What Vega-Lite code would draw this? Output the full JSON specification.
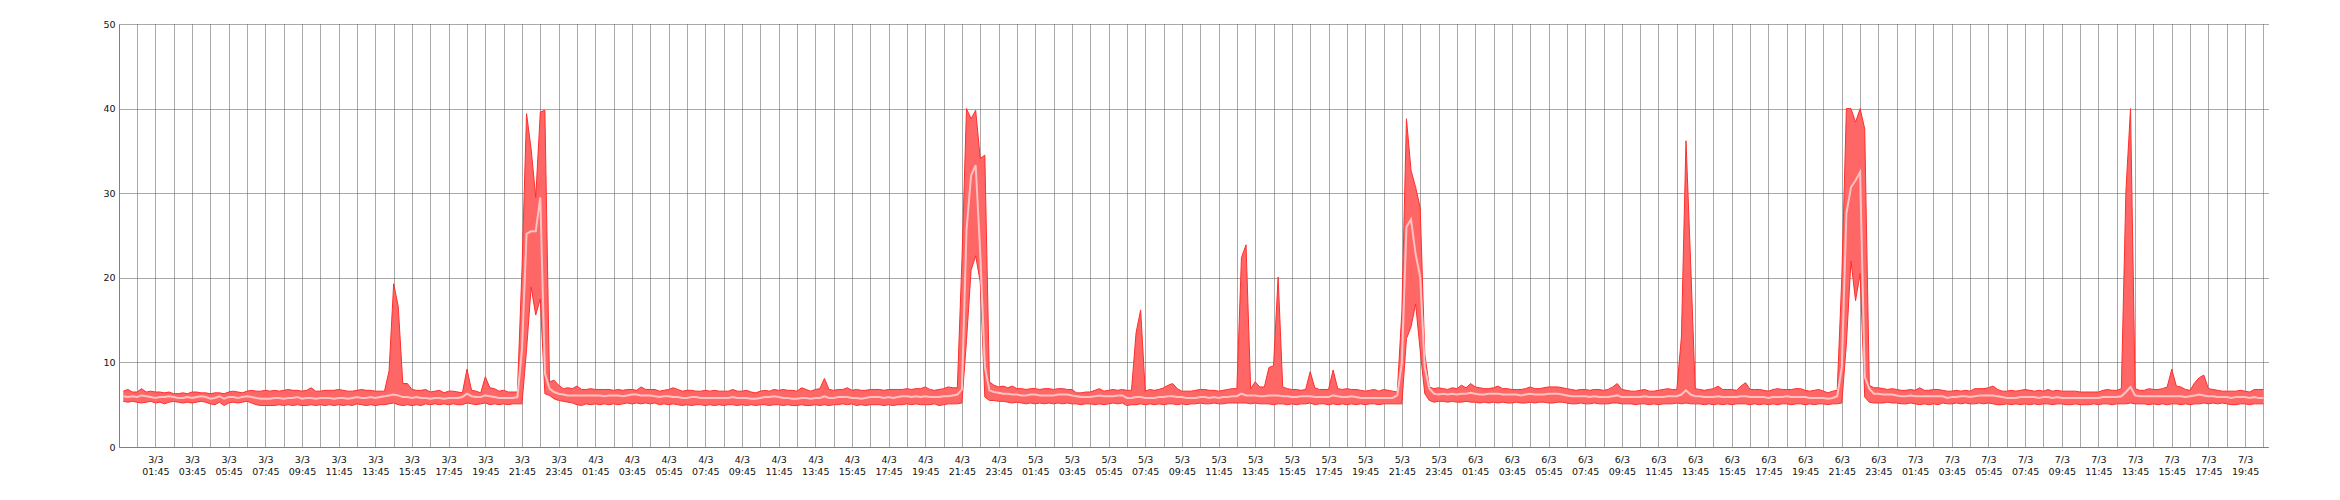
{
"$schema":"https://vega.github.io/schema/vega-lite/v6.json",
"autosize":{"type":"none"},
"padding":{"left":119,"top":24,"right":72,"bottom":53},
"width":2149,"height":423,
"background":"white",
"config":{"view":{"stroke":null},"axis":{"labelFont":"DejaVu Sans","labelFontSize":9.5,"labelColor":"#111111","domainColor":"#808080","domainWidth":1,"gridColor":"#555555","gridDash":[1,1],"gridWidth":1,"ticks":false,"zindex":1}},
"data":{"values":[
{"t":"2021-03-03T00:00","lo":5.4,"av":6.0,"hi":6.6},
{"t":"2021-03-03T00:15","lo":5.3,"av":5.9,"hi":6.8},
{"t":"2021-03-03T00:30","lo":5.4,"av":6.0,"hi":6.5},
{"t":"2021-03-03T00:45","lo":5.3,"av":5.9,"hi":6.5},
{"t":"2021-03-03T01:00","lo":5.2,"av":6.1,"hi":6.9},
{"t":"2021-03-03T01:15","lo":5.3,"av":6.0,"hi":6.5},
{"t":"2021-03-03T01:30","lo":5.4,"av":5.9,"hi":6.6},
{"t":"2021-03-03T01:45","lo":5.2,"av":5.8,"hi":6.5},
{"t":"2021-03-03T02:00","lo":5.3,"av":5.9,"hi":6.5},
{"t":"2021-03-03T02:15","lo":5.1,"av":5.9,"hi":6.4},
{"t":"2021-03-03T02:30","lo":5.3,"av":6.0,"hi":6.5},
{"t":"2021-03-03T02:45","lo":5.4,"av":5.9,"hi":6.3},
{"t":"2021-03-03T03:00","lo":5.3,"av":5.8,"hi":6.3},
{"t":"2021-03-03T03:15","lo":5.2,"av":5.8,"hi":6.4},
{"t":"2021-03-03T03:30","lo":5.3,"av":5.9,"hi":6.3},
{"t":"2021-03-03T03:45","lo":5.2,"av":5.8,"hi":6.5},
{"t":"2021-03-03T04:00","lo":5.3,"av":5.9,"hi":6.5},
{"t":"2021-03-03T04:15","lo":5.4,"av":6.0,"hi":6.4},
{"t":"2021-03-03T04:30","lo":5.3,"av":5.9,"hi":6.4},
{"t":"2021-03-03T04:45","lo":5.1,"av":5.7,"hi":6.3},
{"t":"2021-03-03T05:00","lo":5.0,"av":5.8,"hi":6.4},
{"t":"2021-03-03T05:15","lo":5.3,"av":6.0,"hi":6.4},
{"t":"2021-03-03T05:30","lo":4.9,"av":5.7,"hi":6.3},
{"t":"2021-03-03T05:45","lo":5.2,"av":5.9,"hi":6.5},
{"t":"2021-03-03T06:00","lo":5.3,"av":5.9,"hi":6.6},
{"t":"2021-03-03T06:15","lo":5.2,"av":5.8,"hi":6.5},
{"t":"2021-03-03T06:30","lo":5.3,"av":5.9,"hi":6.4},
{"t":"2021-03-03T06:45","lo":5.4,"av":6.0,"hi":6.6},
{"t":"2021-03-03T07:00","lo":5.2,"av":5.9,"hi":6.7},
{"t":"2021-03-03T07:15","lo":5.0,"av":5.8,"hi":6.6},
{"t":"2021-03-03T07:30","lo":4.9,"av":5.7,"hi":6.6},
{"t":"2021-03-03T07:45","lo":4.9,"av":5.7,"hi":6.7},
{"t":"2021-03-03T08:00","lo":4.9,"av":5.7,"hi":6.6},
{"t":"2021-03-03T08:15","lo":4.9,"av":5.8,"hi":6.7},
{"t":"2021-03-03T08:30","lo":5.0,"av":5.8,"hi":6.6},
{"t":"2021-03-03T08:45","lo":4.9,"av":5.7,"hi":6.7},
{"t":"2021-03-03T09:00","lo":5.0,"av":5.8,"hi":6.8},
{"t":"2021-03-03T09:15","lo":4.9,"av":5.8,"hi":6.7},
{"t":"2021-03-03T09:30","lo":5.0,"av":5.9,"hi":6.7},
{"t":"2021-03-03T09:45","lo":4.9,"av":5.7,"hi":6.6},
{"t":"2021-03-03T10:00","lo":4.9,"av":5.8,"hi":6.7},
{"t":"2021-03-03T10:15","lo":5.0,"av":5.8,"hi":7.0},
{"t":"2021-03-03T10:30","lo":4.9,"av":5.7,"hi":6.6},
{"t":"2021-03-03T10:45","lo":5.0,"av":5.8,"hi":6.6},
{"t":"2021-03-03T11:00","lo":4.9,"av":5.8,"hi":6.7},
{"t":"2021-03-03T11:15","lo":5.0,"av":5.8,"hi":6.7},
{"t":"2021-03-03T11:30","lo":4.9,"av":5.7,"hi":6.7},
{"t":"2021-03-03T11:45","lo":5.0,"av":5.8,"hi":6.8},
{"t":"2021-03-03T12:00","lo":4.9,"av":5.8,"hi":6.7},
{"t":"2021-03-03T12:15","lo":5.0,"av":5.7,"hi":6.6},
{"t":"2021-03-03T12:30","lo":4.9,"av":5.8,"hi":6.6},
{"t":"2021-03-03T12:45","lo":5.1,"av":5.9,"hi":6.7},
{"t":"2021-03-03T13:00","lo":5.0,"av":5.8,"hi":6.8},
{"t":"2021-03-03T13:15","lo":4.9,"av":5.8,"hi":6.7},
{"t":"2021-03-03T13:30","lo":5.0,"av":5.9,"hi":6.7},
{"t":"2021-03-03T13:45","lo":4.9,"av":5.8,"hi":6.6},
{"t":"2021-03-03T14:00","lo":5.0,"av":5.9,"hi":6.6},
{"t":"2021-03-03T14:15","lo":5.0,"av":6.0,"hi":6.6},
{"t":"2021-03-03T14:30","lo":5.1,"av":6.1,"hi":9.0},
{"t":"2021-03-03T14:45","lo":5.2,"av":6.2,"hi":19.3},
{"t":"2021-03-03T15:00","lo":5.0,"av":6.1,"hi":16.6},
{"t":"2021-03-03T15:15","lo":4.9,"av":5.9,"hi":7.5},
{"t":"2021-03-03T15:30","lo":5.0,"av":5.9,"hi":7.5},
{"t":"2021-03-03T15:45","lo":4.9,"av":5.8,"hi":6.8},
{"t":"2021-03-03T16:00","lo":5.0,"av":5.9,"hi":6.7},
{"t":"2021-03-03T16:15","lo":4.9,"av":5.8,"hi":6.7},
{"t":"2021-03-03T16:30","lo":5.1,"av":5.8,"hi":6.8},
{"t":"2021-03-03T16:45","lo":5.0,"av":5.7,"hi":6.5},
{"t":"2021-03-03T17:00","lo":5.1,"av":5.8,"hi":6.6},
{"t":"2021-03-03T17:15","lo":5.0,"av":5.8,"hi":6.7},
{"t":"2021-03-03T17:30","lo":5.1,"av":5.7,"hi":6.4},
{"t":"2021-03-03T17:45","lo":5.0,"av":5.8,"hi":6.6},
{"t":"2021-03-03T18:00","lo":5.1,"av":5.8,"hi":6.6},
{"t":"2021-03-03T18:15","lo":5.0,"av":5.8,"hi":6.5},
{"t":"2021-03-03T18:30","lo":5.0,"av":5.9,"hi":6.4},
{"t":"2021-03-03T18:45","lo":5.2,"av":6.3,"hi":9.2},
{"t":"2021-03-03T19:00","lo":5.1,"av":6.0,"hi":6.7},
{"t":"2021-03-03T19:15","lo":5.0,"av":5.9,"hi":6.6},
{"t":"2021-03-03T19:30","lo":5.1,"av":5.9,"hi":6.4},
{"t":"2021-03-03T19:45","lo":5.2,"av":6.1,"hi":8.3},
{"t":"2021-03-03T20:00","lo":5.0,"av":6.0,"hi":7.0},
{"t":"2021-03-03T20:15","lo":5.1,"av":5.9,"hi":6.9},
{"t":"2021-03-03T20:30","lo":5.0,"av":5.8,"hi":6.6},
{"t":"2021-03-03T20:45","lo":5.1,"av":5.8,"hi":6.7},
{"t":"2021-03-03T21:00","lo":5.0,"av":5.8,"hi":6.5},
{"t":"2021-03-03T21:15","lo":5.1,"av":5.8,"hi":6.5},
{"t":"2021-03-03T21:30","lo":5.1,"av":5.9,"hi":6.5},
{"t":"2021-03-03T21:45","lo":5.1,"av":11.5,"hi":21.0},
{"t":"2021-03-03T22:00","lo":11.5,"av":25.2,"hi":39.4},
{"t":"2021-03-03T22:15","lo":18.9,"av":25.5,"hi":35.2},
{"t":"2021-03-03T22:30","lo":15.6,"av":25.5,"hi":29.5},
{"t":"2021-03-03T22:45","lo":17.5,"av":29.5,"hi":39.6},
{"t":"2021-03-03T23:00","lo":6.3,"av":8.7,"hi":39.8},
{"t":"2021-03-03T23:15","lo":6.1,"av":6.9,"hi":7.7},
{"t":"2021-03-03T23:30","lo":5.7,"av":6.5,"hi":7.9},
{"t":"2021-03-03T23:45","lo":5.5,"av":6.3,"hi":7.3},
{"t":"2021-03-04T00:00","lo":5.4,"av":6.2,"hi":6.9},
{"t":"2021-03-04T00:15","lo":5.3,"av":6.1,"hi":7.0},
{"t":"2021-03-04T00:30","lo":5.2,"av":6.1,"hi":6.9},
{"t":"2021-03-04T00:45","lo":5.0,"av":6.1,"hi":7.2},
{"t":"2021-03-04T01:00","lo":4.9,"av":6.1,"hi":6.8},
{"t":"2021-03-04T01:15","lo":5.1,"av":6.1,"hi":6.8},
{"t":"2021-03-04T01:30","lo":5.0,"av":6.1,"hi":6.9},
{"t":"2021-03-04T01:45","lo":5.1,"av":6.1,"hi":6.8},
{"t":"2021-03-04T02:00","lo":5.0,"av":6.1,"hi":6.8},
{"t":"2021-03-04T02:15","lo":5.1,"av":6.0,"hi":6.8},
{"t":"2021-03-04T02:30","lo":5.0,"av":6.1,"hi":6.8},
{"t":"2021-03-04T02:45","lo":5.1,"av":6.1,"hi":6.7},
{"t":"2021-03-04T03:00","lo":5.0,"av":6.1,"hi":6.8},
{"t":"2021-03-04T03:15","lo":5.1,"av":6.0,"hi":6.7},
{"t":"2021-03-04T03:30","lo":5.2,"av":6.1,"hi":6.8},
{"t":"2021-03-04T03:45","lo":5.1,"av":6.2,"hi":6.8},
{"t":"2021-03-04T04:00","lo":5.2,"av":6.2,"hi":6.7},
{"t":"2021-03-04T04:15","lo":5.1,"av":6.1,"hi":7.1},
{"t":"2021-03-04T04:30","lo":5.2,"av":6.1,"hi":6.8},
{"t":"2021-03-04T04:45","lo":5.1,"av":6.1,"hi":6.8},
{"t":"2021-03-04T05:00","lo":5.2,"av":6.0,"hi":6.8},
{"t":"2021-03-04T05:15","lo":5.0,"av":5.9,"hi":6.6},
{"t":"2021-03-04T05:30","lo":5.1,"av":6.0,"hi":6.7},
{"t":"2021-03-04T05:45","lo":5.0,"av":6.0,"hi":6.8},
{"t":"2021-03-04T06:00","lo":5.1,"av":5.9,"hi":7.0},
{"t":"2021-03-04T06:15","lo":5.0,"av":5.9,"hi":6.8},
{"t":"2021-03-04T06:30","lo":4.9,"av":5.8,"hi":6.6},
{"t":"2021-03-04T06:45","lo":5.0,"av":5.8,"hi":6.7},
{"t":"2021-03-04T07:00","lo":4.9,"av":5.9,"hi":6.7},
{"t":"2021-03-04T07:15","lo":5.0,"av":5.9,"hi":6.6},
{"t":"2021-03-04T07:30","lo":5.0,"av":5.8,"hi":6.6},
{"t":"2021-03-04T07:45","lo":4.9,"av":5.8,"hi":6.7},
{"t":"2021-03-04T08:00","lo":5.0,"av":5.8,"hi":6.6},
{"t":"2021-03-04T08:15","lo":4.9,"av":5.8,"hi":6.7},
{"t":"2021-03-04T08:30","lo":5.0,"av":5.8,"hi":6.6},
{"t":"2021-03-04T08:45","lo":4.9,"av":5.8,"hi":6.6},
{"t":"2021-03-04T09:00","lo":5.0,"av":5.8,"hi":6.6},
{"t":"2021-03-04T09:15","lo":5.0,"av":5.9,"hi":6.8},
{"t":"2021-03-04T09:30","lo":4.9,"av":5.8,"hi":6.6},
{"t":"2021-03-04T09:45","lo":5.0,"av":5.8,"hi":6.6},
{"t":"2021-03-04T10:00","lo":4.9,"av":5.8,"hi":6.7},
{"t":"2021-03-04T10:15","lo":5.0,"av":5.7,"hi":6.5},
{"t":"2021-03-04T10:30","lo":4.9,"av":5.7,"hi":6.4},
{"t":"2021-03-04T10:45","lo":5.0,"av":5.8,"hi":6.6},
{"t":"2021-03-04T11:00","lo":5.0,"av":5.9,"hi":6.7},
{"t":"2021-03-04T11:15","lo":4.9,"av":5.9,"hi":6.6},
{"t":"2021-03-04T11:30","lo":5.0,"av":6.0,"hi":6.8},
{"t":"2021-03-04T11:45","lo":5.0,"av":5.9,"hi":6.7},
{"t":"2021-03-04T12:00","lo":4.9,"av":5.8,"hi":6.8},
{"t":"2021-03-04T12:15","lo":5.0,"av":5.8,"hi":6.7},
{"t":"2021-03-04T12:30","lo":4.9,"av":5.7,"hi":6.7},
{"t":"2021-03-04T12:45","lo":4.9,"av":5.7,"hi":6.6},
{"t":"2021-03-04T13:00","lo":5.0,"av":5.8,"hi":7.0},
{"t":"2021-03-04T13:15","lo":4.9,"av":5.8,"hi":6.8},
{"t":"2021-03-04T13:30","lo":4.9,"av":5.7,"hi":6.6},
{"t":"2021-03-04T13:45","lo":5.0,"av":5.8,"hi":6.8},
{"t":"2021-03-04T14:00","lo":4.9,"av":5.8,"hi":6.9},
{"t":"2021-03-04T14:15","lo":5.0,"av":6.0,"hi":8.1},
{"t":"2021-03-04T14:30","lo":4.9,"av":5.8,"hi":6.8},
{"t":"2021-03-04T14:45","lo":5.0,"av":5.8,"hi":6.7},
{"t":"2021-03-04T15:00","lo":5.0,"av":5.9,"hi":6.8},
{"t":"2021-03-04T15:15","lo":5.1,"av":5.9,"hi":6.8},
{"t":"2021-03-04T15:30","lo":5.0,"av":5.9,"hi":7.0},
{"t":"2021-03-04T15:45","lo":5.1,"av":5.8,"hi":6.7},
{"t":"2021-03-04T16:00","lo":4.9,"av":5.8,"hi":6.8},
{"t":"2021-03-04T16:15","lo":5.0,"av":5.7,"hi":6.7},
{"t":"2021-03-04T16:30","lo":4.9,"av":5.8,"hi":6.7},
{"t":"2021-03-04T16:45","lo":5.0,"av":5.9,"hi":6.8},
{"t":"2021-03-04T17:00","lo":5.0,"av":5.9,"hi":6.8},
{"t":"2021-03-04T17:15","lo":5.0,"av":5.9,"hi":6.8},
{"t":"2021-03-04T17:30","lo":4.9,"av":5.8,"hi":6.7},
{"t":"2021-03-04T17:45","lo":5.0,"av":5.9,"hi":6.8},
{"t":"2021-03-04T18:00","lo":4.9,"av":5.8,"hi":6.8},
{"t":"2021-03-04T18:15","lo":5.0,"av":5.9,"hi":6.8},
{"t":"2021-03-04T18:30","lo":5.0,"av":6.0,"hi":6.8},
{"t":"2021-03-04T18:45","lo":5.1,"av":6.0,"hi":6.9},
{"t":"2021-03-04T19:00","lo":5.0,"av":5.9,"hi":6.8},
{"t":"2021-03-04T19:15","lo":5.1,"av":6.0,"hi":6.9},
{"t":"2021-03-04T19:30","lo":5.0,"av":5.9,"hi":6.9},
{"t":"2021-03-04T19:45","lo":5.0,"av":6.0,"hi":7.1},
{"t":"2021-03-04T20:00","lo":5.0,"av":5.9,"hi":6.8},
{"t":"2021-03-04T20:15","lo":5.1,"av":5.9,"hi":6.7},
{"t":"2021-03-04T20:30","lo":4.9,"av":5.9,"hi":6.8},
{"t":"2021-03-04T20:45","lo":5.0,"av":6.0,"hi":6.9},
{"t":"2021-03-04T21:00","lo":5.1,"av":6.0,"hi":7.1},
{"t":"2021-03-04T21:15","lo":5.1,"av":6.1,"hi":7.0},
{"t":"2021-03-04T21:30","lo":5.1,"av":6.2,"hi":7.0},
{"t":"2021-03-04T21:45","lo":5.2,"av":6.8,"hi":22.0},
{"t":"2021-03-04T22:00","lo":12.6,"av":25.6,"hi":40.0},
{"t":"2021-03-04T22:15","lo":20.9,"av":32.1,"hi":38.8},
{"t":"2021-03-04T22:30","lo":22.6,"av":33.3,"hi":39.8},
{"t":"2021-03-04T22:45","lo":19.5,"av":22.9,"hi":34.1},
{"t":"2021-03-04T23:00","lo":5.9,"av":9.5,"hi":34.5},
{"t":"2021-03-04T23:15","lo":5.5,"av":6.7,"hi":7.7},
{"t":"2021-03-04T23:30","lo":5.5,"av":6.5,"hi":7.3},
{"t":"2021-03-04T23:45","lo":5.4,"av":6.4,"hi":7.1},
{"t":"2021-03-05T00:00","lo":5.4,"av":6.3,"hi":7.2},
{"t":"2021-03-05T00:15","lo":5.3,"av":6.3,"hi":7.0},
{"t":"2021-03-05T00:30","lo":5.2,"av":6.2,"hi":7.2},
{"t":"2021-03-05T00:45","lo":5.3,"av":6.2,"hi":6.9},
{"t":"2021-03-05T01:00","lo":5.2,"av":6.1,"hi":6.9},
{"t":"2021-03-05T01:15","lo":5.1,"av":6.1,"hi":6.8},
{"t":"2021-03-05T01:30","lo":5.2,"av":6.2,"hi":6.9},
{"t":"2021-03-05T01:45","lo":5.1,"av":6.2,"hi":6.9},
{"t":"2021-03-05T02:00","lo":5.2,"av":6.1,"hi":6.8},
{"t":"2021-03-05T02:15","lo":5.1,"av":6.1,"hi":6.9},
{"t":"2021-03-05T02:30","lo":5.2,"av":6.1,"hi":6.9},
{"t":"2021-03-05T02:45","lo":5.1,"av":6.1,"hi":6.8},
{"t":"2021-03-05T03:00","lo":5.2,"av":6.2,"hi":6.9},
{"t":"2021-03-05T03:15","lo":5.1,"av":6.2,"hi":6.9},
{"t":"2021-03-05T03:30","lo":5.2,"av":6.2,"hi":6.8},
{"t":"2021-03-05T03:45","lo":5.1,"av":6.1,"hi":6.8},
{"t":"2021-03-05T04:00","lo":5.1,"av":6.0,"hi":6.4},
{"t":"2021-03-05T04:15","lo":5.0,"av":5.9,"hi":6.4},
{"t":"2021-03-05T04:30","lo":5.1,"av":5.9,"hi":6.5},
{"t":"2021-03-05T04:45","lo":5.1,"av":5.9,"hi":6.5},
{"t":"2021-03-05T05:00","lo":5.0,"av":6.0,"hi":6.7},
{"t":"2021-03-05T05:15","lo":5.1,"av":6.1,"hi":6.9},
{"t":"2021-03-05T05:30","lo":5.0,"av":6.0,"hi":6.6},
{"t":"2021-03-05T05:45","lo":5.1,"av":6.0,"hi":6.7},
{"t":"2021-03-05T06:00","lo":5.2,"av":6.0,"hi":6.8},
{"t":"2021-03-05T06:15","lo":5.1,"av":6.1,"hi":6.7},
{"t":"2021-03-05T06:30","lo":5.2,"av":6.1,"hi":6.8},
{"t":"2021-03-05T06:45","lo":4.9,"av":5.8,"hi":6.7},
{"t":"2021-03-05T07:00","lo":5.0,"av":5.8,"hi":6.7},
{"t":"2021-03-05T07:15","lo":5.0,"av":5.9,"hi":13.5},
{"t":"2021-03-05T07:30","lo":5.1,"av":5.9,"hi":16.2},
{"t":"2021-03-05T07:45","lo":5.0,"av":5.8,"hi":6.6},
{"t":"2021-03-05T08:00","lo":5.1,"av":5.8,"hi":6.8},
{"t":"2021-03-05T08:15","lo":5.0,"av":5.8,"hi":6.7},
{"t":"2021-03-05T08:30","lo":5.1,"av":5.9,"hi":6.8},
{"t":"2021-03-05T08:45","lo":5.0,"av":5.9,"hi":7.0},
{"t":"2021-03-05T09:00","lo":5.1,"av":6.0,"hi":7.3},
{"t":"2021-03-05T09:15","lo":5.1,"av":6.0,"hi":7.5},
{"t":"2021-03-05T09:30","lo":5.0,"av":5.9,"hi":6.9},
{"t":"2021-03-05T09:45","lo":5.1,"av":5.9,"hi":6.6},
{"t":"2021-03-05T10:00","lo":5.0,"av":5.8,"hi":6.6},
{"t":"2021-03-05T10:15","lo":5.1,"av":5.8,"hi":6.6},
{"t":"2021-03-05T10:30","lo":5.1,"av":5.8,"hi":6.7},
{"t":"2021-03-05T10:45","lo":5.2,"av":5.9,"hi":6.8},
{"t":"2021-03-05T11:00","lo":5.1,"av":5.9,"hi":6.8},
{"t":"2021-03-05T11:15","lo":5.1,"av":5.8,"hi":6.7},
{"t":"2021-03-05T11:30","lo":5.2,"av":5.9,"hi":6.7},
{"t":"2021-03-05T11:45","lo":5.1,"av":5.8,"hi":6.6},
{"t":"2021-03-05T12:00","lo":5.1,"av":5.9,"hi":6.7},
{"t":"2021-03-05T12:15","lo":5.2,"av":5.9,"hi":6.8},
{"t":"2021-03-05T12:30","lo":5.2,"av":6.0,"hi":6.9},
{"t":"2021-03-05T12:45","lo":5.2,"av":6.0,"hi":6.9},
{"t":"2021-03-05T13:00","lo":5.2,"av":6.3,"hi":22.4},
{"t":"2021-03-05T13:15","lo":5.2,"av":6.1,"hi":23.9},
{"t":"2021-03-05T13:30","lo":5.1,"av":6.1,"hi":6.9},
{"t":"2021-03-05T13:45","lo":5.2,"av":6.1,"hi":7.7},
{"t":"2021-03-05T14:00","lo":5.1,"av":6.0,"hi":7.1},
{"t":"2021-03-05T14:15","lo":5.1,"av":6.0,"hi":7.1},
{"t":"2021-03-05T14:30","lo":5.1,"av":6.1,"hi":9.4},
{"t":"2021-03-05T14:45","lo":5.0,"av":6.1,"hi":9.6},
{"t":"2021-03-05T15:00","lo":5.1,"av":6.1,"hi":20.1},
{"t":"2021-03-05T15:15","lo":5.1,"av":6.0,"hi":7.1},
{"t":"2021-03-05T15:30","lo":5.0,"av":6.0,"hi":6.9},
{"t":"2021-03-05T15:45","lo":5.1,"av":5.9,"hi":6.8},
{"t":"2021-03-05T16:00","lo":5.0,"av":5.9,"hi":6.8},
{"t":"2021-03-05T16:15","lo":5.1,"av":6.0,"hi":6.7},
{"t":"2021-03-05T16:30","lo":5.1,"av":6.0,"hi":6.8},
{"t":"2021-03-05T16:45","lo":5.2,"av":6.0,"hi":8.9},
{"t":"2021-03-05T17:00","lo":5.0,"av":5.9,"hi":7.0},
{"t":"2021-03-05T17:15","lo":5.1,"av":5.9,"hi":6.8},
{"t":"2021-03-05T17:30","lo":5.1,"av":5.9,"hi":6.8},
{"t":"2021-03-05T17:45","lo":5.0,"av":5.9,"hi":6.8},
{"t":"2021-03-05T18:00","lo":5.1,"av":6.1,"hi":9.1},
{"t":"2021-03-05T18:15","lo":5.0,"av":6.0,"hi":6.9},
{"t":"2021-03-05T18:30","lo":5.1,"av":5.9,"hi":6.8},
{"t":"2021-03-05T18:45","lo":5.0,"av":5.9,"hi":6.9},
{"t":"2021-03-05T19:00","lo":5.1,"av":6.0,"hi":6.8},
{"t":"2021-03-05T19:15","lo":5.0,"av":5.9,"hi":6.8},
{"t":"2021-03-05T19:30","lo":5.1,"av":5.8,"hi":6.7},
{"t":"2021-03-05T19:45","lo":5.0,"av":5.8,"hi":6.6},
{"t":"2021-03-05T20:00","lo":5.1,"av":5.8,"hi":6.7},
{"t":"2021-03-05T20:15","lo":5.1,"av":5.8,"hi":6.8},
{"t":"2021-03-05T20:30","lo":5.0,"av":5.8,"hi":6.6},
{"t":"2021-03-05T20:45","lo":5.1,"av":5.8,"hi":6.8},
{"t":"2021-03-05T21:00","lo":5.1,"av":5.8,"hi":6.7},
{"t":"2021-03-05T21:15","lo":5.1,"av":5.8,"hi":6.6},
{"t":"2021-03-05T21:30","lo":5.1,"av":6.1,"hi":6.5},
{"t":"2021-03-05T21:45","lo":5.1,"av":10.0,"hi":16.0},
{"t":"2021-03-05T22:00","lo":12.8,"av":26.0,"hi":38.8},
{"t":"2021-03-05T22:15","lo":14.2,"av":26.9,"hi":32.7},
{"t":"2021-03-05T22:30","lo":16.9,"av":22.8,"hi":30.7},
{"t":"2021-03-05T22:45","lo":11.4,"av":20.1,"hi":28.3},
{"t":"2021-03-05T23:00","lo":6.3,"av":9.4,"hi":11.0},
{"t":"2021-03-05T23:15","lo":5.5,"av":6.9,"hi":7.1},
{"t":"2021-03-05T23:30","lo":5.3,"av":6.3,"hi":6.9},
{"t":"2021-03-05T23:45","lo":5.4,"av":6.2,"hi":7.0},
{"t":"2021-03-06T00:00","lo":5.4,"av":6.3,"hi":6.9},
{"t":"2021-03-06T00:15","lo":5.3,"av":6.2,"hi":6.8},
{"t":"2021-03-06T00:30","lo":5.4,"av":6.3,"hi":7.0},
{"t":"2021-03-06T00:45","lo":5.3,"av":6.2,"hi":6.9},
{"t":"2021-03-06T01:00","lo":5.3,"av":6.3,"hi":7.3},
{"t":"2021-03-06T01:15","lo":5.4,"av":6.3,"hi":7.0},
{"t":"2021-03-06T01:30","lo":5.3,"av":6.4,"hi":7.5},
{"t":"2021-03-06T01:45","lo":5.3,"av":6.3,"hi":7.1},
{"t":"2021-03-06T02:00","lo":5.2,"av":6.2,"hi":7.0},
{"t":"2021-03-06T02:15","lo":5.3,"av":6.2,"hi":6.9},
{"t":"2021-03-06T02:30","lo":5.2,"av":6.3,"hi":6.9},
{"t":"2021-03-06T02:45","lo":5.3,"av":6.3,"hi":7.0},
{"t":"2021-03-06T03:00","lo":5.2,"av":6.3,"hi":7.2},
{"t":"2021-03-06T03:15","lo":5.3,"av":6.2,"hi":6.9},
{"t":"2021-03-06T03:30","lo":5.2,"av":6.2,"hi":6.9},
{"t":"2021-03-06T03:45","lo":5.2,"av":6.2,"hi":6.8},
{"t":"2021-03-06T04:00","lo":5.3,"av":6.2,"hi":6.8},
{"t":"2021-03-06T04:15","lo":5.2,"av":6.1,"hi":6.8},
{"t":"2021-03-06T04:30","lo":5.2,"av":6.2,"hi":6.9},
{"t":"2021-03-06T04:45","lo":5.3,"av":6.3,"hi":7.1},
{"t":"2021-03-06T05:00","lo":5.2,"av":6.2,"hi":6.9},
{"t":"2021-03-06T05:15","lo":5.3,"av":6.2,"hi":6.9},
{"t":"2021-03-06T05:30","lo":5.3,"av":6.2,"hi":7.0},
{"t":"2021-03-06T05:45","lo":5.2,"av":6.3,"hi":7.1},
{"t":"2021-03-06T06:00","lo":5.2,"av":6.3,"hi":7.1},
{"t":"2021-03-06T06:15","lo":5.3,"av":6.3,"hi":7.1},
{"t":"2021-03-06T06:30","lo":5.3,"av":6.2,"hi":7.0},
{"t":"2021-03-06T06:45","lo":5.2,"av":6.1,"hi":6.9},
{"t":"2021-03-06T07:00","lo":5.1,"av":6.0,"hi":6.8},
{"t":"2021-03-06T07:15","lo":5.1,"av":6.0,"hi":6.7},
{"t":"2021-03-06T07:30","lo":5.2,"av":6.0,"hi":6.8},
{"t":"2021-03-06T07:45","lo":5.1,"av":6.0,"hi":6.8},
{"t":"2021-03-06T08:00","lo":5.1,"av":5.9,"hi":6.7},
{"t":"2021-03-06T08:15","lo":5.2,"av":6.0,"hi":6.8},
{"t":"2021-03-06T08:30","lo":5.1,"av":5.9,"hi":6.8},
{"t":"2021-03-06T08:45","lo":5.1,"av":5.9,"hi":6.7},
{"t":"2021-03-06T09:00","lo":5.1,"av":5.9,"hi":6.8},
{"t":"2021-03-06T09:15","lo":5.2,"av":6.0,"hi":7.1},
{"t":"2021-03-06T09:30","lo":5.2,"av":6.1,"hi":7.5},
{"t":"2021-03-06T09:45","lo":5.1,"av":5.9,"hi":6.8},
{"t":"2021-03-06T10:00","lo":5.1,"av":5.9,"hi":6.7},
{"t":"2021-03-06T10:15","lo":5.1,"av":5.9,"hi":6.6},
{"t":"2021-03-06T10:30","lo":5.0,"av":5.9,"hi":6.6},
{"t":"2021-03-06T10:45","lo":5.1,"av":5.9,"hi":6.7},
{"t":"2021-03-06T11:00","lo":5.1,"av":6.0,"hi":6.8},
{"t":"2021-03-06T11:15","lo":5.0,"av":5.9,"hi":6.6},
{"t":"2021-03-06T11:30","lo":5.1,"av":5.9,"hi":6.6},
{"t":"2021-03-06T11:45","lo":5.0,"av":5.9,"hi":6.7},
{"t":"2021-03-06T12:00","lo":5.1,"av":5.9,"hi":6.8},
{"t":"2021-03-06T12:15","lo":5.1,"av":6.0,"hi":6.9},
{"t":"2021-03-06T12:30","lo":5.1,"av":6.0,"hi":6.8},
{"t":"2021-03-06T12:45","lo":5.2,"av":6.0,"hi":6.8},
{"t":"2021-03-06T13:00","lo":5.1,"av":6.2,"hi":13.0},
{"t":"2021-03-06T13:15","lo":5.2,"av":6.7,"hi":36.2},
{"t":"2021-03-06T13:30","lo":5.1,"av":6.2,"hi":22.0},
{"t":"2021-03-06T13:45","lo":5.1,"av":6.0,"hi":6.9},
{"t":"2021-03-06T14:00","lo":5.1,"av":6.0,"hi":6.8},
{"t":"2021-03-06T14:15","lo":5.0,"av":5.9,"hi":6.7},
{"t":"2021-03-06T14:30","lo":5.1,"av":5.9,"hi":6.8},
{"t":"2021-03-06T14:45","lo":5.0,"av":5.9,"hi":6.9},
{"t":"2021-03-06T15:00","lo":5.1,"av":6.0,"hi":7.2},
{"t":"2021-03-06T15:15","lo":5.0,"av":5.9,"hi":6.8},
{"t":"2021-03-06T15:30","lo":5.1,"av":5.9,"hi":6.8},
{"t":"2021-03-06T15:45","lo":5.0,"av":5.9,"hi":6.8},
{"t":"2021-03-06T16:00","lo":5.1,"av":5.9,"hi":6.7},
{"t":"2021-03-06T16:15","lo":5.1,"av":6.0,"hi":7.2},
{"t":"2021-03-06T16:30","lo":5.1,"av":6.0,"hi":7.6},
{"t":"2021-03-06T16:45","lo":5.0,"av":5.9,"hi":6.8},
{"t":"2021-03-06T17:00","lo":5.1,"av":5.9,"hi":6.8},
{"t":"2021-03-06T17:15","lo":5.0,"av":5.9,"hi":6.8},
{"t":"2021-03-06T17:30","lo":5.1,"av":5.9,"hi":6.7},
{"t":"2021-03-06T17:45","lo":5.0,"av":5.8,"hi":6.6},
{"t":"2021-03-06T18:00","lo":5.1,"av":5.9,"hi":6.8},
{"t":"2021-03-06T18:15","lo":5.0,"av":5.9,"hi":6.9},
{"t":"2021-03-06T18:30","lo":5.1,"av":5.9,"hi":6.8},
{"t":"2021-03-06T18:45","lo":5.1,"av":6.0,"hi":6.8},
{"t":"2021-03-06T19:00","lo":5.0,"av":5.9,"hi":6.8},
{"t":"2021-03-06T19:15","lo":5.1,"av":5.9,"hi":6.9},
{"t":"2021-03-06T19:30","lo":5.1,"av":5.9,"hi":6.9},
{"t":"2021-03-06T19:45","lo":5.0,"av":5.9,"hi":6.7},
{"t":"2021-03-06T20:00","lo":5.1,"av":5.8,"hi":6.6},
{"t":"2021-03-06T20:15","lo":5.0,"av":5.8,"hi":6.7},
{"t":"2021-03-06T20:30","lo":5.1,"av":5.8,"hi":6.8},
{"t":"2021-03-06T20:45","lo":5.1,"av":5.8,"hi":6.6},
{"t":"2021-03-06T21:00","lo":5.0,"av":5.7,"hi":6.4},
{"t":"2021-03-06T21:15","lo":5.1,"av":5.8,"hi":6.6},
{"t":"2021-03-06T21:30","lo":5.1,"av":6.0,"hi":6.7},
{"t":"2021-03-06T21:45","lo":5.2,"av":9.4,"hi":20.0},
{"t":"2021-03-06T22:00","lo":12.2,"av":27.6,"hi":40.0},
{"t":"2021-03-06T22:15","lo":22.0,"av":30.7,"hi":40.0},
{"t":"2021-03-06T22:30","lo":17.3,"av":31.5,"hi":38.4},
{"t":"2021-03-06T22:45","lo":20.5,"av":32.5,"hi":40.0},
{"t":"2021-03-06T23:00","lo":5.9,"av":8.3,"hi":37.6},
{"t":"2021-03-06T23:15","lo":5.3,"av":6.9,"hi":7.3},
{"t":"2021-03-06T23:30","lo":5.2,"av":6.3,"hi":7.0},
{"t":"2021-03-06T23:45","lo":5.2,"av":6.3,"hi":7.0},
{"t":"2021-03-07T00:00","lo":5.2,"av":6.2,"hi":6.9},
{"t":"2021-03-07T00:15","lo":5.3,"av":6.2,"hi":6.8},
{"t":"2021-03-07T00:30","lo":5.2,"av":6.2,"hi":6.9},
{"t":"2021-03-07T00:45","lo":5.2,"av":6.1,"hi":6.8},
{"t":"2021-03-07T01:00","lo":5.1,"av":6.0,"hi":6.7},
{"t":"2021-03-07T01:15","lo":5.1,"av":6.0,"hi":6.7},
{"t":"2021-03-07T01:30","lo":5.2,"av":6.1,"hi":6.8},
{"t":"2021-03-07T01:45","lo":5.1,"av":6.0,"hi":6.7},
{"t":"2021-03-07T02:00","lo":5.0,"av":6.0,"hi":7.0},
{"t":"2021-03-07T02:15","lo":5.1,"av":6.0,"hi":6.7},
{"t":"2021-03-07T02:30","lo":5.0,"av":6.0,"hi":6.7},
{"t":"2021-03-07T02:45","lo":5.1,"av":6.0,"hi":6.8},
{"t":"2021-03-07T03:00","lo":5.0,"av":6.0,"hi":6.8},
{"t":"2021-03-07T03:15","lo":5.2,"av":6.0,"hi":6.7},
{"t":"2021-03-07T03:30","lo":5.1,"av":5.8,"hi":6.6},
{"t":"2021-03-07T03:45","lo":5.1,"av":5.9,"hi":6.6},
{"t":"2021-03-07T04:00","lo":5.2,"av":5.9,"hi":6.7},
{"t":"2021-03-07T04:15","lo":5.1,"av":6.0,"hi":6.6},
{"t":"2021-03-07T04:30","lo":5.2,"av":6.0,"hi":6.7},
{"t":"2021-03-07T04:45","lo":5.1,"av":5.9,"hi":6.6},
{"t":"2021-03-07T05:00","lo":5.1,"av":6.0,"hi":6.9},
{"t":"2021-03-07T05:15","lo":5.2,"av":6.1,"hi":6.9},
{"t":"2021-03-07T05:30","lo":5.1,"av":6.1,"hi":6.9},
{"t":"2021-03-07T05:45","lo":5.2,"av":6.1,"hi":7.0},
{"t":"2021-03-07T06:00","lo":5.1,"av":6.1,"hi":7.2},
{"t":"2021-03-07T06:15","lo":5.0,"av":6.0,"hi":6.8},
{"t":"2021-03-07T06:30","lo":5.0,"av":5.9,"hi":6.6},
{"t":"2021-03-07T06:45","lo":5.1,"av":5.8,"hi":6.6},
{"t":"2021-03-07T07:00","lo":5.0,"av":5.8,"hi":6.7},
{"t":"2021-03-07T07:15","lo":5.1,"av":5.8,"hi":6.6},
{"t":"2021-03-07T07:30","lo":5.0,"av":5.9,"hi":6.7},
{"t":"2021-03-07T07:45","lo":5.1,"av":5.9,"hi":6.8},
{"t":"2021-03-07T08:00","lo":5.0,"av":5.9,"hi":6.7},
{"t":"2021-03-07T08:15","lo":5.1,"av":5.9,"hi":6.6},
{"t":"2021-03-07T08:30","lo":5.0,"av":5.8,"hi":6.7},
{"t":"2021-03-07T08:45","lo":5.1,"av":5.9,"hi":6.6},
{"t":"2021-03-07T09:00","lo":5.1,"av":5.9,"hi":6.8},
{"t":"2021-03-07T09:15","lo":5.0,"av":5.8,"hi":6.6},
{"t":"2021-03-07T09:30","lo":5.1,"av":5.9,"hi":6.7},
{"t":"2021-03-07T09:45","lo":5.1,"av":5.8,"hi":6.6},
{"t":"2021-03-07T10:00","lo":5.0,"av":5.8,"hi":6.6},
{"t":"2021-03-07T10:15","lo":5.0,"av":5.8,"hi":6.6},
{"t":"2021-03-07T10:30","lo":5.1,"av":5.8,"hi":6.6},
{"t":"2021-03-07T10:45","lo":5.0,"av":5.8,"hi":6.5},
{"t":"2021-03-07T11:00","lo":5.0,"av":5.8,"hi":6.5},
{"t":"2021-03-07T11:15","lo":5.0,"av":5.8,"hi":6.5},
{"t":"2021-03-07T11:30","lo":5.1,"av":5.8,"hi":6.5},
{"t":"2021-03-07T11:45","lo":5.0,"av":5.8,"hi":6.5},
{"t":"2021-03-07T12:00","lo":5.1,"av":5.9,"hi":6.7},
{"t":"2021-03-07T12:15","lo":5.1,"av":5.9,"hi":6.8},
{"t":"2021-03-07T12:30","lo":5.0,"av":5.9,"hi":6.7},
{"t":"2021-03-07T12:45","lo":5.1,"av":5.9,"hi":6.7},
{"t":"2021-03-07T13:00","lo":5.1,"av":6.0,"hi":6.9},
{"t":"2021-03-07T13:15","lo":5.1,"av":6.5,"hi":30.3},
{"t":"2021-03-07T13:30","lo":5.2,"av":7.1,"hi":40.0},
{"t":"2021-03-07T13:45","lo":5.1,"av":6.1,"hi":6.9},
{"t":"2021-03-07T14:00","lo":5.1,"av":6.0,"hi":6.7},
{"t":"2021-03-07T14:15","lo":5.1,"av":6.0,"hi":6.7},
{"t":"2021-03-07T14:30","lo":5.0,"av":6.0,"hi":6.9},
{"t":"2021-03-07T14:45","lo":5.1,"av":6.0,"hi":6.8},
{"t":"2021-03-07T15:00","lo":5.0,"av":6.0,"hi":6.8},
{"t":"2021-03-07T15:15","lo":5.1,"av":6.0,"hi":6.9},
{"t":"2021-03-07T15:30","lo":5.0,"av":6.0,"hi":7.1},
{"t":"2021-03-07T15:45","lo":5.1,"av":6.0,"hi":9.2},
{"t":"2021-03-07T16:00","lo":5.1,"av":6.0,"hi":7.2},
{"t":"2021-03-07T16:15","lo":5.0,"av":6.0,"hi":7.1},
{"t":"2021-03-07T16:30","lo":5.1,"av":5.9,"hi":6.8},
{"t":"2021-03-07T16:45","lo":5.0,"av":6.0,"hi":6.7},
{"t":"2021-03-07T17:00","lo":5.1,"av":6.1,"hi":7.6},
{"t":"2021-03-07T17:15","lo":5.1,"av":6.2,"hi":8.2},
{"t":"2021-03-07T17:30","lo":5.2,"av":6.1,"hi":8.5},
{"t":"2021-03-07T17:45","lo":5.1,"av":6.0,"hi":6.9},
{"t":"2021-03-07T18:00","lo":5.2,"av":6.0,"hi":6.8},
{"t":"2021-03-07T18:15","lo":5.1,"av":5.9,"hi":6.7},
{"t":"2021-03-07T18:30","lo":5.2,"av":5.9,"hi":6.6},
{"t":"2021-03-07T18:45","lo":5.1,"av":5.9,"hi":6.6},
{"t":"2021-03-07T19:00","lo":5.0,"av":5.8,"hi":6.6},
{"t":"2021-03-07T19:15","lo":5.0,"av":5.9,"hi":6.6},
{"t":"2021-03-07T19:30","lo":5.1,"av":5.9,"hi":6.7},
{"t":"2021-03-07T19:45","lo":5.1,"av":5.9,"hi":6.6},
{"t":"2021-03-07T20:00","lo":5.0,"av":5.8,"hi":6.5},
{"t":"2021-03-07T20:15","lo":5.1,"av":5.9,"hi":6.8},
{"t":"2021-03-07T20:30","lo":5.1,"av":5.8,"hi":6.8},
{"t":"2021-03-07T20:45","lo":5.1,"av":5.8,"hi":6.8}
]},
"encoding":{
"x":{"field":"t","type":"temporal","title":null,
"scale":{"domain":[{"year":2021,"month":3,"date":2,"hours":23,"minutes":46},{"year":2021,"month":3,"date":7,"hours":21,"minutes":0}]},
"axis":{"grid":true,"values":{"expr":"sequence(datetime(2021,2,3,0,45), datetime(2021,2,7,21,0), 3600000)"},"labelExpr":"hours(datum.value) % 2 == 1 ? [timeFormat(datum.value, '%-d/%-m'), timeFormat(datum.value, '%H:%M')] : ''","labelPadding":7,"labelLineHeight":12.5,"labelOverlap":false,"labelFlush":false,"labelBound":false,"labelAlign":"center"}}
},
"layer":[
{"mark":{"type":"area","color":"#ff6666","opacity":1},
 "encoding":{"y":{"field":"hi","type":"quantitative","title":null,"scale":{"domain":[0,50],"nice":false,"zero":true},
  "axis":{"values":[0,10,20,30,40,50],"grid":true,"labelPadding":4}},
  "y2":{"field":"lo"}}},
{"mark":{"type":"line","color":"#ff2e2e","strokeWidth":1},
 "encoding":{"y":{"field":"hi","type":"quantitative","title":null}}},
{"mark":{"type":"line","color":"#ff2e2e","strokeWidth":1},
 "encoding":{"y":{"field":"lo","type":"quantitative","title":null}}},
{"mark":{"type":"line","color":"#ffc2c2","strokeWidth":2},
 "encoding":{"y":{"field":"av","type":"quantitative","title":null}}}
]
}
